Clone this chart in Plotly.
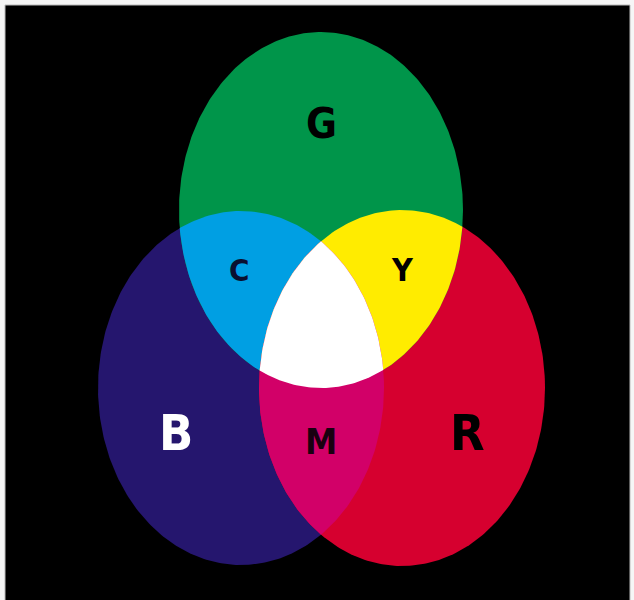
import numpy as np
import plotly.graph_objects as go

# Venn sets: name, centre (x, y) in pixel space, radii (rx, ry), colour
set_names = ["B", "R", "G"]
set_cx = [241, 402, 321]
set_cy = [388, 388, 210]
set_rx = [143, 143, 142]
set_ry = [177, 178, 178]
set_colors = ["#25166E", "#D6002F", "#00954A"]

# overlap regions
overlap_names = ["C", "Y", "M", "W"]
overlap_members = [["G", "B"], ["G", "R"], ["B", "R"], ["G", "B", "R"]]
overlap_colors = ["#009FE3", "#FFEC00", "#D20068", "#FFFFFF"]

# labels
label_text = ["G", "C", "Y", "B", "M", "R"]
label_x = [321, 239, 402, 176, 321, 467]
label_y = [123, 270, 270, 433, 441, 433]
label_size = [42, 31, 32, 50, 36, 50]
label_color = ["#000000", "#0A1030", "#000000", "#FFFFFF", "#1A0010", "#000000"]

N = 360


def ellipse(i):
    t = np.linspace(0, 2 * np.pi, N, endpoint=False)
    return list(zip(set_cx[i] + set_rx[i] * np.cos(t), set_cy[i] + set_ry[i] * np.sin(t)))


def clip(subject, clipper):
    def area(p):
        return sum(p[k][0] * p[(k + 1) % len(p)][1] - p[(k + 1) % len(p)][0] * p[k][1] for k in range(len(p)))
    sgn = 1 if area(clipper) > 0 else -1

    def inside(p, a, b):
        return sgn * ((b[0] - a[0]) * (p[1] - a[1]) - (b[1] - a[1]) * (p[0] - a[0])) >= 0

    def inter(p, q, a, b):
        x1, y1 = p; x2, y2 = q; x3, y3 = a; x4, y4 = b
        den = (x1 - x2) * (y3 - y4) - (y1 - y2) * (x3 - x4)
        if abs(den) < 1e-12:
            return q
        t = ((x1 - x3) * (y3 - y4) - (y1 - y3) * (x3 - x4)) / den
        return (x1 + t * (x2 - x1), y1 + t * (y2 - y1))

    out = subject
    for k in range(len(clipper)):
        a = clipper[k]; b = clipper[(k + 1) % len(clipper)]
        inp = out; out = []
        if not inp:
            break
        s = inp[-1]
        for e in inp:
            if inside(e, a, b):
                if not inside(s, a, b):
                    out.append(inter(s, e, a, b))
                out.append(e)
            elif inside(s, a, b):
                out.append(inter(s, e, a, b))
            s = e
    return out


fig = go.Figure()


def add_poly(pts, color):
    xs = [p[0] for p in pts] + [pts[0][0]]
    ys = [p[1] for p in pts] + [pts[0][1]]
    fig.add_trace(go.Scatter(x=xs, y=ys, mode="lines", fill="toself", fillcolor=color,
                             line=dict(width=0, color=color), hoverinfo="skip", showlegend=False))


polys = {n: ellipse(i) for i, n in enumerate(set_names)}
for i, n in enumerate(set_names):
    add_poly(polys[n], set_colors[i])

for name, members, col in zip(overlap_names, overlap_members, overlap_colors):
    p = polys[members[0]]
    for m in members[1:]:
        p = clip(p, polys[m])
    add_poly(p, col)

for t, x, y, s, c in zip(label_text, label_x, label_y, label_size, label_color):
    fig.add_annotation(x=x, y=y, text="<b>%s</b>" % t, showarrow=False,
                       font=dict(family="Liberation Sans Narrow, DejaVu Sans Condensed, Liberation Sans, Arial",
                                 size=s, color=c),
                       xanchor="center", yanchor="middle")

fig.add_shape(type="rect", x0=5, y0=5, x1=630, y1=602, fillcolor="#000000",
              line=dict(width=1, color="#BBBBBB"), layer="below")

fig.update_layout(
    width=634, height=600,
    margin=dict(l=0, r=0, t=0, b=0),
    paper_bgcolor="#F6F6F6", plot_bgcolor="#F6F6F6",
    xaxis=dict(range=[0, 634], visible=False, fixedrange=True),
    yaxis=dict(range=[600, 0], visible=False, fixedrange=True),
    showlegend=False,
)

fig.write_html("out.html", config={"displayModeBar": False},
               post_script="document.body.style.margin='0';document.body.style.overflow='hidden';")
